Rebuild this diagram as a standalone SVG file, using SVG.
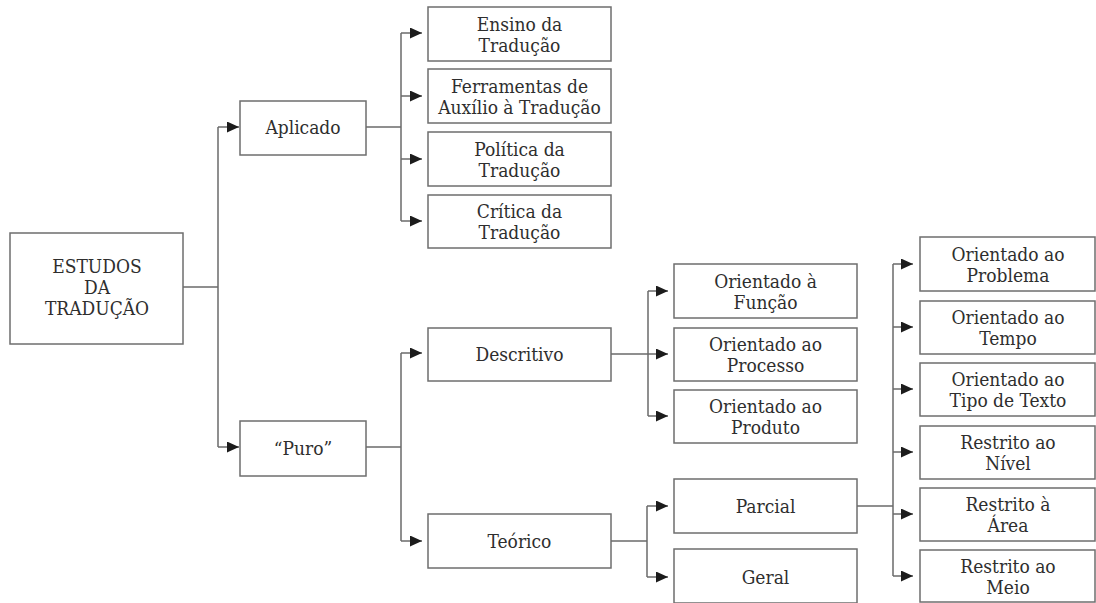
<svg xmlns="http://www.w3.org/2000/svg" width="1096" height="603" viewBox="0 0 1096 603">
<style>
.box{fill:#fff;stroke:#6e6e6e;stroke-width:1.5}
.t{font-family:'DejaVu Serif Condensed','DejaVu Serif',serif;font-stretch:condensed;font-size:19px;fill:#2e2e2e;text-anchor:middle}
.c{fill:none;stroke:#6a6a6a;stroke-width:1.5}
</style>
<defs>
<marker id="ah" markerUnits="userSpaceOnUse" viewBox="0 0 12 11" refX="12" refY="5.5" markerWidth="12" markerHeight="11" orient="auto">
<path d="M0,0 L12,5.5 L0,11 Z" fill="#1c1c1c"/>
</marker>
</defs>
<rect width="1096" height="603" fill="#fff"/>
<g id="connectors">
<path class="c" d="M183,287 H218"/>
<path class="c" d="M218,127 V447"/>
<path class="c" d="M218,127 H239" marker-end="url(#ah)"/>
<path class="c" d="M218,447 H239" marker-end="url(#ah)"/>
<path class="c" d="M366,127 H401"/>
<path class="c" d="M401,33 V221"/>
<path class="c" d="M401,33 H422" marker-end="url(#ah)"/>
<path class="c" d="M401,96 H422" marker-end="url(#ah)"/>
<path class="c" d="M401,159 H422" marker-end="url(#ah)"/>
<path class="c" d="M401,221 H422" marker-end="url(#ah)"/>
<path class="c" d="M366,447 H401"/>
<path class="c" d="M401,353 V541"/>
<path class="c" d="M401,353 H422" marker-end="url(#ah)"/>
<path class="c" d="M401,541 H422" marker-end="url(#ah)"/>
<path class="c" d="M611,354 H648"/>
<path class="c" d="M648,291 V416"/>
<path class="c" d="M648,291 H668" marker-end="url(#ah)"/>
<path class="c" d="M648,354 H668" marker-end="url(#ah)"/>
<path class="c" d="M648,416 H668" marker-end="url(#ah)"/>
<path class="c" d="M611,541 H647"/>
<path class="c" d="M647,506 V577"/>
<path class="c" d="M647,506 H668" marker-end="url(#ah)"/>
<path class="c" d="M647,577 H668" marker-end="url(#ah)"/>
<path class="c" d="M857,506 H893"/>
<path class="c" d="M893,264 V576"/>
<path class="c" d="M893,264 H913" marker-end="url(#ah)"/>
<path class="c" d="M893,327 H913" marker-end="url(#ah)"/>
<path class="c" d="M893,389 H913" marker-end="url(#ah)"/>
<path class="c" d="M893,452 H913" marker-end="url(#ah)"/>
<path class="c" d="M893,514 H913" marker-end="url(#ah)"/>
<path class="c" d="M893,576 H913" marker-end="url(#ah)"/>
</g>
<g id="n-estudos"><rect class="box" x="10" y="233" width="173" height="111"/>
<text class="t" x="97" y="273">ESTUDOS</text><text class="t" x="97" y="294">DA</text><text class="t" x="97" y="315">TRADUÇÃO</text></g>
<g id="n-aplicado"><rect class="box" x="240" y="101" width="126" height="54"/><text class="t" x="303" y="134">Aplicado</text></g>
<g id="n-puro"><rect class="box" x="240" y="421" width="126" height="55"/><text class="t" x="303" y="455">“Puro”</text></g>
<g id="n-ensino"><rect class="box" x="428" y="7" width="183" height="54"/><text class="t" x="519.5" y="31">Ensino da</text><text class="t" x="519.5" y="52">Tradução</text></g>
<g id="n-ferramentas"><rect class="box" x="428" y="69" width="183" height="54"/><text class="t" x="519.5" y="93">Ferramentas de</text><text class="t" x="519.5" y="114">Auxílio à Tradução</text></g>
<g id="n-politica"><rect class="box" x="428" y="132" width="183" height="54"/><text class="t" x="519.5" y="156">Política da</text><text class="t" x="519.5" y="177">Tradução</text></g>
<g id="n-critica"><rect class="box" x="428" y="195" width="183" height="53"/><text class="t" x="519.5" y="218">Crítica da</text><text class="t" x="519.5" y="239">Tradução</text></g>
<g id="n-descritivo"><rect class="box" x="428" y="328" width="183" height="53"/><text class="t" x="519.5" y="361">Descritivo</text></g>
<g id="n-teorico"><rect class="box" x="428" y="514" width="183" height="54"/><text class="t" x="519.5" y="548">Teórico</text></g>
<g id="n-funcao"><rect class="box" x="674" y="264" width="183" height="54"/><text class="t" x="765.5" y="288">Orientado à</text><text class="t" x="765.5" y="309">Função</text></g>
<g id="n-processo"><rect class="box" x="674" y="328" width="183" height="53"/><text class="t" x="765.5" y="351">Orientado ao</text><text class="t" x="765.5" y="372">Processo</text></g>
<g id="n-produto"><rect class="box" x="674" y="390" width="183" height="53"/><text class="t" x="765.5" y="413">Orientado ao</text><text class="t" x="765.5" y="434">Produto</text></g>
<g id="n-parcial"><rect class="box" x="674" y="479" width="183" height="54"/><text class="t" x="765.5" y="513">Parcial</text></g>
<g id="n-geral"><rect class="box" x="674" y="549" width="183" height="54"/><text class="t" x="765.5" y="584">Geral</text></g>
<g id="n-problema"><rect class="box" x="920" y="237" width="175" height="54"/><text class="t" x="1008" y="261">Orientado ao</text><text class="t" x="1008" y="282">Problema</text></g>
<g id="n-tempo"><rect class="box" x="920" y="301" width="175" height="53"/><text class="t" x="1008" y="324">Orientado ao</text><text class="t" x="1008" y="345">Tempo</text></g>
<g id="n-tipo"><rect class="box" x="920" y="363" width="175" height="53"/><text class="t" x="1008" y="386">Orientado ao</text><text class="t" x="1008" y="407">Tipo de Texto</text></g>
<g id="n-nivel"><rect class="box" x="920" y="426" width="175" height="53"/><text class="t" x="1008" y="449">Restrito ao</text><text class="t" x="1008" y="470">Nível</text></g>
<g id="n-area"><rect class="box" x="920" y="488" width="175" height="53"/><text class="t" x="1008" y="511">Restrito à</text><text class="t" x="1008" y="532">Área</text></g>
<g id="n-meio"><rect class="box" x="920" y="550" width="175" height="52"/><text class="t" x="1008" y="573">Restrito ao</text><text class="t" x="1008" y="594">Meio</text></g>
</svg>
